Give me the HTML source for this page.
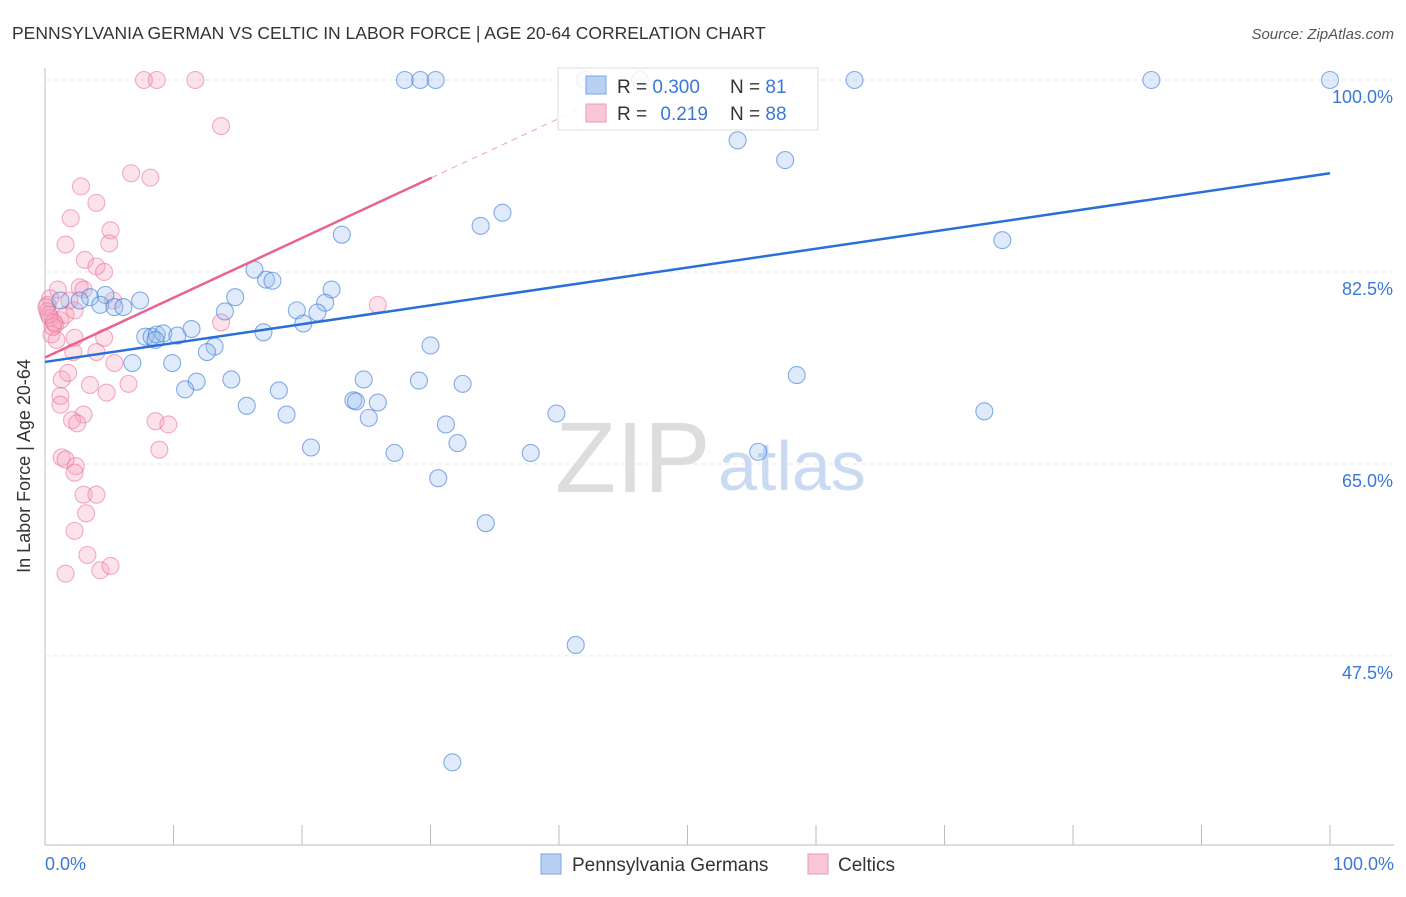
<!DOCTYPE html>
<html><head><meta charset="utf-8"><style>
body{margin:0;background:#fff;font-family:"Liberation Sans",sans-serif}
svg text{font-family:"Liberation Sans",sans-serif}
</style></head><body>
<svg width="1406" height="892" viewBox="0 0 1406 892">
<text x="12" y="39" font-size="17.5" fill="#333">PENNSYLVANIA GERMAN VS CELTIC IN LABOR FORCE | AGE 20-64 CORRELATION CHART</text>
<text x="1394" y="39" font-size="15" fill="#555" font-style="italic" text-anchor="end">Source: ZipAtlas.com</text>
<g id="grid"></g>
<text x="555" y="492" font-size="100" fill="#ddd" font-family="Liberation Serif">ZIP</text>
<text x="718" y="490" font-size="70" fill="#c9daf2">atlas</text>
<g id="pts"></g>
<g id="lines"></g>
<text x="22" y="458" font-size="18" fill="#333" transform="rotate(-90 30 458)" text-anchor="middle">In Labor Force | Age 20-64</text>
<text x="45" y="870" font-size="18" fill="#3a78d8">0.0%</text>
<text x="1394" y="870" font-size="18" fill="#3a78d8" text-anchor="end">100.0%</text>
<g id="pts2"></g>
<g>
<rect x="558" y="68" width="260" height="62" fill="rgba(255,255,255,0.85)" stroke="#ddd"/>
<rect x="586" y="76" width="20" height="18" fill="#b8d1f3" stroke="#7aa6e6"/>
<rect x="586" y="104" width="20" height="18" fill="#f8c6d4" stroke="#ee9ab2"/>
<text x="617" y="93" font-size="19" fill="#333">R = <tspan fill="#3a78d8">0.300</tspan></text>
<text x="730" y="93" font-size="19" fill="#333">N = <tspan fill="#3a78d8">81</tspan></text>
<text x="617" y="120" font-size="19" fill="#333">R = <tspan fill="#3a78d8" dx="8">0.219</tspan></text>
<text x="730" y="120" font-size="19" fill="#333">N = <tspan fill="#3a78d8">88</tspan></text>
</g>
<g>
<rect x="541" y="854" width="20" height="20" fill="#b8d1f3" stroke="#7aa6e6"/>
<text x="572" y="871" font-size="19" fill="#333">Pennsylvania Germans</text>
<rect x="808" y="854" width="20" height="20" fill="#f8c6d4" stroke="#ee9ab2"/>
<text x="838" y="871" font-size="19" fill="#333">Celtics</text>
</g>
</svg>
<script>
const yTicks=[100,82.5,65,47.5];
const blueX=[28.0,29.2,30.4,42.0,46.3,63.0,86.1,100,53.9,57.6,35.6,33.9,23.1,74.5,16.3,17.2,17.7,22.3,14.8,7.4,4.7,3.5,2.7,4.3,5.4,6.1,19.6,21.8,21.2,14.0,20.1,11.4,17.0,7.8,8.3,8.7,9.2,10.3,8.6,13.2,12.6,30.0,6.8,9.9,58.5,14.5,11.8,10.9,24.8,29.1,32.5,18.2,24.0,24.2,25.9,15.7,18.8,25.2,39.8,73.1,31.2,32.1,20.7,27.2,37.8,55.5,30.6,34.3,41.3,31.7,1.2];
const blueY=[100,100,100,100,100,100,100,100,94.5,92.7,87.9,86.7,85.9,85.4,82.7,81.8,81.7,80.9,80.2,79.9,80.4,80.2,79.9,79.5,79.3,79.3,79.0,79.7,78.8,78.9,77.8,77.3,77.0,76.6,76.6,76.8,76.9,76.7,76.3,75.7,75.2,75.8,74.2,74.2,73.1,72.7,72.5,71.8,72.7,72.6,72.3,71.7,70.8,70.7,70.6,70.3,69.5,69.2,69.6,69.8,68.6,66.9,66.5,66.0,66.0,66.1,63.7,59.6,48.5,37.8,79.9];
const pinkX=[7.7,8.7,11.7,13.7,6.7,8.2,2.8,4.0,2.0,5.1,5.0,1.6,3.1,4.0,4.6,2.7,3.0,1.0,0.4,0.2,0.2,0.4,0.8,1.2,1.6,1.9,2.3,0.5,0.9,0.6,5.3,25.9,13.7,2.3,4.6,2.2,4.0,5.4,1.3,3.5,6.5,4.8,1.2,1.2,1.8,3.0,2.1,2.5,8.6,9.6,8.9,1.3,1.6,2.4,2.3,3.0,4.0,3.2,2.3,3.3,4.3,5.1,1.6,0.1,0.3,0.7];
const pinkY=[100,100,100,95.8,91.5,91.1,90.3,88.8,87.4,86.3,85.1,85.0,83.6,83.0,82.5,81.1,80.9,80.9,80.1,79.5,78.9,78.3,77.7,78.1,78.6,79.9,79.0,76.8,76.3,77.5,79.9,79.5,77.9,76.5,76.5,75.2,75.2,74.2,72.7,72.2,72.3,71.5,71.2,70.4,73.3,69.5,69.0,68.7,68.9,68.6,66.3,65.6,65.4,64.8,64.2,62.2,62.2,60.5,58.9,56.7,55.3,55.7,55.0,79.3,78.6,77.9];
const blueTrend=[74.3,91.5];
const pinkTrend=[74.7,91.1,30.1,42];
const X=v=>45+v*12.85, Y=v=>80+(100-v)*10.97;
const NS='http://www.w3.org/2000/svg';
function mk(t,a,p){const e=document.createElementNS(NS,t);for(const k in a)e.setAttribute(k,a[k]);p.appendChild(e);return e;}
const grid=document.getElementById('grid');
mk('line',{x1:45,y1:68,x2:45,y2:845,stroke:'#bbb'},grid);
mk('line',{x1:45,y1:845,x2:1394,y2:845,stroke:'#bbb'},grid);
for(let i=0;i<=10;i++){const l=mk('line',{x1:45+i*128.5,y1:825,x2:45+i*128.5,y2:845,stroke:'#bbb'},grid);}
yTicks.forEach(t=>{const l=mk('line',{x1:45,y1:Y(t),x2:1394,y2:Y(t),stroke:'#e6e6e6','stroke-dasharray':'4,4'},grid);


const tx=mk('text',{x:1393,y:Y(t)+23,'font-size':18,fill:'#3a78d8','text-anchor':'end'},grid);tx.textContent=t.toFixed(1)+'%';

});
const pts=document.getElementById('pts');
pinkX.forEach((x,i)=>{const c=mk('circle',{cx:X(x),cy:Y(pinkY[i]),r:8.5,fill:'rgba(244,160,185,0.3)',stroke:'rgba(232,110,150,0.55)','stroke-width':1.1},pts);

});
blueX.forEach((x,i)=>{const c=mk('circle',{cx:X(x),cy:Y(blueY[i]),r:8.5,fill:'rgba(150,190,240,0.3)',stroke:'rgba(60,120,215,0.6)','stroke-width':1.1},pts);

});
const ln=document.getElementById('lines');
const b=mk('line',{x1:X(0),y1:Y(blueTrend[0]),x2:X(100),y2:Y(blueTrend[1]),stroke:'#2a6fd6','stroke-width':2.5},ln);


const s=(pinkTrend[1]-pinkTrend[0])/pinkTrend[2];
const p=mk('line',{x1:X(0),y1:Y(pinkTrend[0]),x2:X(pinkTrend[2]),y2:Y(pinkTrend[1]),stroke:'#e8648f','stroke-width':2.5},ln);


const pd=mk('line',{x1:X(pinkTrend[2]),y1:Y(pinkTrend[1]),x2:X(pinkTrend[3]),y2:Y(pinkTrend[0]+s*pinkTrend[3]),stroke:'#f0a0b8','stroke-width':1,'stroke-dasharray':'6,5'},ln);


</script>
</body></html>
